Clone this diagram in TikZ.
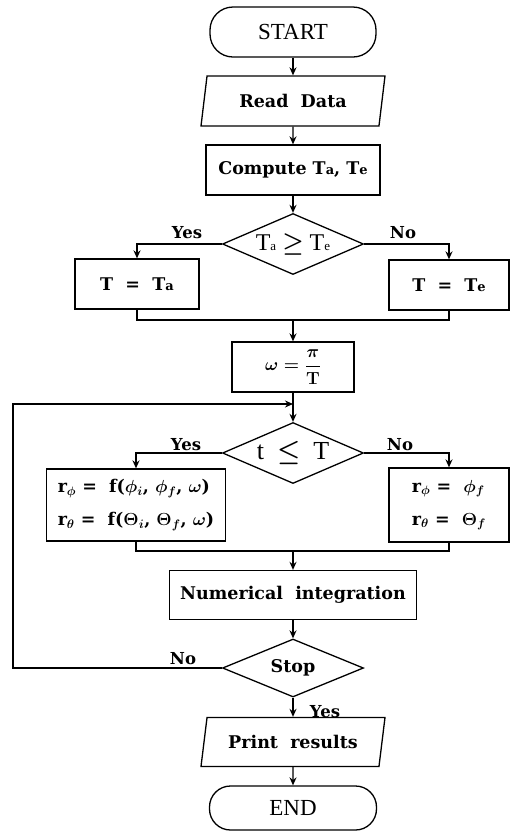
\RequirePackage{fix-cm}
\documentclass[tikz,border=0pt]{standalone}
\usepackage{amsmath,amssymb}
\usepackage{fontspec}
\setmainfont{Liberation Serif}
\newfontfamily\boxfont{DejaVu Serif}
\usepackage{tikz}
\usetikzlibrary{arrows.meta,shapes.geometric}
\newcommand\subx[1]{{\fontsize{13}{13}\selectfont #1}}

\begin{document}
\begin{tikzpicture}[x=1pt,y=-1pt,line width=1.3pt,
  font=\boxfont\bfseries\boldmath\fontsize{17.5}{20}\selectfont,
  term/.style={draw,rectangle,rounded corners=23pt,minimum width=166pt,minimum height=50pt,
    font=\rmfamily\mdseries\unboldmath\fontsize{23}{26}\selectfont},
  proc/.style={draw,rectangle,minimum height=50pt,inner sep=2pt},
  io/.style={draw,trapezium,trapezium left angle=66,trapezium right angle=114,
    trapezium stretches body,minimum height=50pt,inner sep=0pt},
  cond/.style={draw,diamond,aspect=2.3,minimum width=141pt,minimum height=61pt,inner sep=0pt},
  arr/.style={-{Stealth[length=8pt,width=7pt]}},
  lab/.style={inner sep=0pt,font=\boxfont\bfseries\fontsize{16.5}{18}\selectfont}]
  \useasboundingbox (0,0) rectangle (511,831);
  % 上部
  \node[term] (start) at (293,32) {START};
  \node[io,minimum width=184pt] (read) at (293,101) {Read\ \ Data};
  \node[proc,minimum width=174pt] (comp) at (293,170) {Compute T\subx{a}, T\subx{e}};
  \node[cond] (dec1) at (293,244) {\rmfamily\mdseries\fontsize{24}{26}\selectfont T\subx{a} $\geq$ T\subx{e}};
  \node[proc,minimum width=124pt] (ta) at (137,284) {T\ \ =\ \ T\subx{a}};
  \node[proc,minimum width=120pt] (te) at (449,285) {T\ \ =\ \ T\subx{e}};
  \coordinate (m1) at (293,320);
  \node[proc,minimum width=122pt] (omg) at (293,367) {$\omega = \dfrac{\pi}{\mathbf{T}}$};
  % ループ
  \coordinate (j1) at (293,404);
  \coordinate (lp) at (13,404);
  \node[cond] (dec2) at (293,453) {\rmfamily\mdseries\fontsize{26}{28}\selectfont t\ \ $\leq$\ \ T};
  \node[proc,minimum width=179pt,minimum height=72pt,align=left,inner sep=1pt,font=\boxfont\bfseries\boldmath\fontsize{17.5}{33}\selectfont] (rl) at (136,505)
    {r$_{\phi}$\ =\ \ f($\phi_{i}$, $\phi_{f}$, $\omega$)\\r$_{\theta}$\ =\ \ f($\Theta_{i}$, $\Theta_{f}$, $\omega$)};
  \node[proc,minimum width=120pt,minimum height=74pt,align=left,font=\boxfont\bfseries\boldmath\fontsize{17.5}{33}\selectfont] (rr) at (449,505)
    {r$_{\phi}$\ =\ \ $\phi_{f}$\\r$_{\theta}$\ =\ \ $\Theta_{f}$};
  \coordinate (m2) at (293,551);
  \node[proc,minimum width=247pt,minimum height=49pt] (num) at (293,595) {Numerical\ \ integration};
  \node[cond,minimum height=58pt] (stop) at (293,668) {Stop};
  % 下部
  \node[io,minimum width=184pt,minimum height=49pt] (prt) at (293,742) {Print\ \ results};
  \node[term,minimum width=167pt,minimum height=44pt,rounded corners=21pt] (end) at (293,808) {END};
  % ラベル
  \node[lab] (y1) at (187,233) {Yes};
  \node[lab] (n1) at (403,233) {No};
  \node[lab] (y2) at (186,445) {Yes};
  \node[lab] (n2) at (400,445) {No};
  \node[lab] (n3) at (183,659) {No};
  \node[lab] (y3) at (325,712) {Yes};
  % 接続
  \draw[arr] (start) -- (read);
  \draw[arr] (read) -- (comp);
  \draw[arr] (comp) -- (dec1);
  \draw[arr] (dec1.west) -| (ta.north);
  \draw[arr] (dec1.east) -| (te.north);
  \draw (ta.south) |- (m1) -| (te.south);
  \draw[arr] (m1) -- (omg);
  \draw[arr] (omg) -- (dec2);
  \draw[arr] (dec2.west) -| (rl.north);
  \draw[arr] (dec2.east) -| (rr.north);
  \draw (rl.south) |- (m2) -| (rr.south);
  \draw[arr] (m2) -- (num);
  \draw[arr] (num) -- (stop);
  \draw[arr] (stop.west) -| (lp) -- (j1);
  \draw[arr] (stop) -- (prt);
  \draw[arr] (prt) -- (end);
\end{tikzpicture}
\end{document}
